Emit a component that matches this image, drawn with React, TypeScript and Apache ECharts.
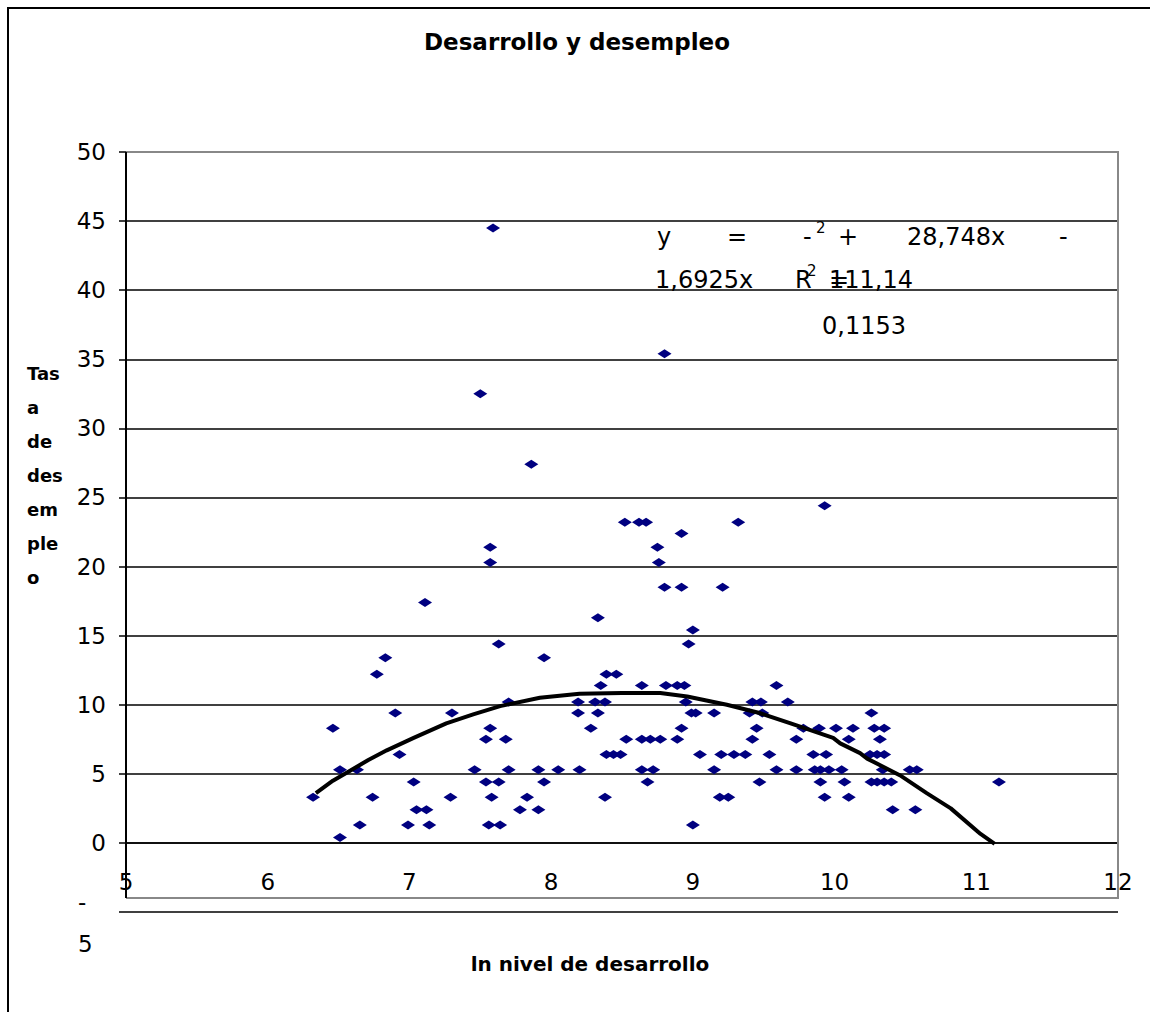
import React, { useEffect, useRef } from "react";
import * as echarts from "echarts";

const FONT = "'DejaVu Sans', Verdana, sans-serif";

const TITLE = "Desarrollo y desempleo";
const X_TITLE = "ln nivel de desarrollo";
const Y_TITLE_LINES = ["Tas", "a", "de", "des", "em", "ple", "o"];

// Scatter points: ln development level (x) and unemployment rate (y)
const devLevel = [
  7.59, 8.80, 7.50, 7.86, 9.93, 8.52, 8.62, 8.67, 9.32, 8.92,
  7.57, 8.75, 7.57, 8.76, 8.80, 8.92, 9.21, 7.11, 8.33, 9.00,
  7.63, 8.97, 6.83, 7.95, 6.77, 8.39, 8.46, 8.35, 8.64, 8.81,
  8.89, 8.94, 9.59, 7.70, 8.19, 8.31, 8.38, 8.95, 9.42, 9.48,
  9.67, 6.90, 7.30, 8.19, 8.33, 8.99, 9.02, 9.15, 9.40, 9.49,
  10.26, 6.46, 7.57, 8.28, 8.92, 9.45, 9.78, 9.89, 10.01, 10.13,
  10.28, 10.35, 7.54, 7.68, 8.53, 8.64, 8.70, 8.77, 8.89, 9.42,
  9.73, 10.10, 10.32, 6.93, 8.39, 8.44, 8.49, 9.05, 9.20, 9.29,
  9.37, 9.54, 9.85, 9.94, 10.25, 10.30, 10.35, 6.51, 6.63, 7.46,
  7.70, 7.91, 8.05, 8.20, 8.64, 8.72, 9.15, 9.59, 9.73, 9.86,
  9.90, 9.96, 10.05, 10.34, 10.53, 10.58, 7.03, 7.54, 7.63, 7.95,
  8.68, 9.47, 9.90, 10.07, 10.26, 10.30, 10.35, 10.40, 11.16, 6.32,
  6.74, 7.29, 7.58, 7.83, 8.38, 9.19, 9.25, 9.93, 10.10, 7.05,
  7.12, 7.78, 7.91, 10.41, 10.57, 6.65, 6.99, 7.14, 7.56, 7.64,
  9.00, 6.51,
];
const unemployment = [
  44.5, 35.4, 32.5, 27.4, 24.4, 23.2, 23.2, 23.2, 23.2, 22.4,
  21.4, 21.4, 20.3, 20.3, 18.5, 18.5, 18.5, 17.4, 16.3, 15.4,
  14.4, 14.4, 13.4, 13.4, 12.2, 12.2, 12.2, 11.4, 11.4, 11.4,
  11.4, 11.4, 11.4, 10.2, 10.2, 10.2, 10.2, 10.2, 10.2, 10.2,
  10.2, 9.4, 9.4, 9.4, 9.4, 9.4, 9.4, 9.4, 9.4, 9.4,
  9.4, 8.3, 8.3, 8.3, 8.3, 8.3, 8.3, 8.3, 8.3, 8.3,
  8.3, 8.3, 7.5, 7.5, 7.5, 7.5, 7.5, 7.5, 7.5, 7.5,
  7.5, 7.5, 7.5, 6.4, 6.4, 6.4, 6.4, 6.4, 6.4, 6.4,
  6.4, 6.4, 6.4, 6.4, 6.4, 6.4, 6.4, 5.3, 5.3, 5.3,
  5.3, 5.3, 5.3, 5.3, 5.3, 5.3, 5.3, 5.3, 5.3, 5.3,
  5.3, 5.3, 5.3, 5.3, 5.3, 5.3, 4.4, 4.4, 4.4, 4.4,
  4.4, 4.4, 4.4, 4.4, 4.4, 4.4, 4.4, 4.4, 4.4, 3.3,
  3.3, 3.3, 3.3, 3.3, 3.3, 3.3, 3.3, 3.3, 3.3, 2.4,
  2.4, 2.4, 2.4, 2.4, 2.4, 1.3, 1.3, 1.3, 1.3, 1.3,
  1.3, 0.4,
];

// Polynomial trendline
const trendX = [
  6.34, 6.46, 6.56, 6.71, 6.84, 7.03, 7.26, 7.45, 7.64, 7.92,
  8.2, 8.5, 8.77, 8.96, 9.24, 9.47, 9.69, 9.99, 10.04, 10.18,
  10.23, 10.46, 10.65, 10.82, 11.03, 11.13,
];
const trendY = [
  3.6, 4.5, 5.1, 6.0, 6.7, 7.6, 8.65, 9.3, 9.9, 10.5,
  10.8, 10.85, 10.85, 10.6, 10.0, 9.4, 8.65, 7.6, 7.2, 6.5,
  6.1, 4.9, 3.6, 2.5, 0.65, -0.07,
];

const X_MIN = 5;
const X_MAX = 12;
const X_STEP = 1;
const Y_MIN = -5;
const Y_MAX = 50;
const Y_STEP = 5;

const GRID_TOP = 152;
const GRID_BOTTOM = 100;
const CHART_H = 1012;

export default function App() {
  const ref = useRef<HTMLDivElement>(null);

  useEffect(() => {
    if (!ref.current) return;
    const chart = echarts.init(ref.current, undefined, { renderer: "svg" });

    const points = devLevel.map((x, i) => [x, unemployment[i]]);
    const trend = trendX.map((x, i) => [x, trendY[i]]);

    // x axis crosses the value axis at zero (as in the reference)
    const gridH = CHART_H - GRID_TOP - GRID_BOTTOM;
    const zeroOffset = -(gridH * (0 - Y_MIN)) / (Y_MAX - Y_MIN);

    const txt = (text: string, x: number, y: number, opts: any = {}) => ({
      type: "text",
      x,
      y,
      z: 100,
      style: {
        text,
        fill: "#000",
        fontFamily: FONT,
        fontSize: opts.fontSize ?? 24,
        fontWeight: opts.fontWeight ?? "normal",
        align: opts.align ?? "left",
        verticalAlign: opts.verticalAlign ?? "middle",
        lineHeight: opts.lineHeight,
      },
    });

    const option: any = {
      animation: false,
      backgroundColor: "#fff",
      grid: { left: 126, right: 32, top: GRID_TOP, bottom: GRID_BOTTOM, containLabel: false },
      xAxis: {
        type: "value",
        min: X_MIN,
        max: X_MAX,
        interval: X_STEP,
        offset: zeroOffset,
        axisLine: { show: true, onZero: false, lineStyle: { color: "#000", width: 1.5 } },
        axisTick: { show: false },
        splitLine: { show: false },
        axisLabel: {
          color: "#000",
          fontSize: 23,
          fontFamily: FONT,
          margin: 28,
          showMinLabel: true,
          showMaxLabel: true,
        },
      },
      yAxis: {
        type: "value",
        min: Y_MIN,
        max: Y_MAX,
        interval: Y_STEP,
        axisLine: { show: false, onZero: false },
        axisTick: { show: true, length: 7, lineStyle: { color: "#000", width: 1.5 } },
        splitLine: { show: true, lineStyle: { color: "#000", width: 1.5 } },
        axisLabel: {
          color: "#000",
          fontSize: 23,
          fontFamily: FONT,
          margin: 20,
          padding: [0, 0, 14, 0],
          formatter: (v: number) => (v === Y_MIN ? "" : String(v)),
        },
      },
      series: [
        {
          type: "scatter",
          data: points,
          symbol: "diamond",
          symbolSize: [14, 9],
          itemStyle: { color: "#000080", opacity: 1 },
          z: 3,
        },
        {
          type: "line",
          data: trend,
          showSymbol: false,
          symbol: "none",
          lineStyle: { color: "#000", width: 4 },
          z: 4,
        },
      ],
      graphic: [
        {
          type: "rect",
          z: 100,
          shape: { x: 8, y: 8, width: 1200, height: 1100 },
          style: { stroke: "#000", lineWidth: 2, fill: "none" },
        },
        {
          type: "polyline",
          z: 100,
          shape: { points: [[126, 152], [1118, 152], [1118, 898], [126, 898]] },
          style: { stroke: "#888", lineWidth: 2, fill: "none" },
        },
        {
          type: "line",
          z: 101,
          shape: { x1: 126, y1: 152, x2: 126, y2: 898 },
          style: { stroke: "#000", lineWidth: 2 },
        },
        txt(TITLE, 577, 42, { fontSize: 23, fontWeight: "bold", align: "center" }),
        txt(X_TITLE, 590, 964, { fontSize: 20, fontWeight: "bold", align: "center" }),
        txt(Y_TITLE_LINES.join("\n"), 27, 356, {
          fontSize: 18,
          fontWeight: "bold",
          verticalAlign: "top",
          lineHeight: 34,
        }),
        // wrapped "-5" tick label
        txt("-", 78, 902, { fontSize: 23 }),
        txt("5", 78, 944, { fontSize: 23 }),
        // trendline equation, as laid out in the reference
        txt("y", 657, 237),
        txt("=", 727, 237),
        txt("-", 803, 237),
        txt("2", 816, 228, { fontSize: 15 }),
        txt("+", 838, 237),
        txt("28,748x", 907, 237),
        txt("-", 1059, 237),
        txt("1,6925x", 655, 280),
        txt("R", 795, 280),
        txt("2", 807, 271, { fontSize: 15 }),
        txt("=", 829, 280),
        txt("111,14", 829, 280),
        txt("0,1153", 822, 326),
      ],
    };

    chart.setOption(option);
    return () => chart.dispose();
  }, []);

  return (
    <div
      ref={ref}
      style={{ position: "absolute", left: 0, top: 0, width: 1150, height: 1012 }}
    />
  );
}
